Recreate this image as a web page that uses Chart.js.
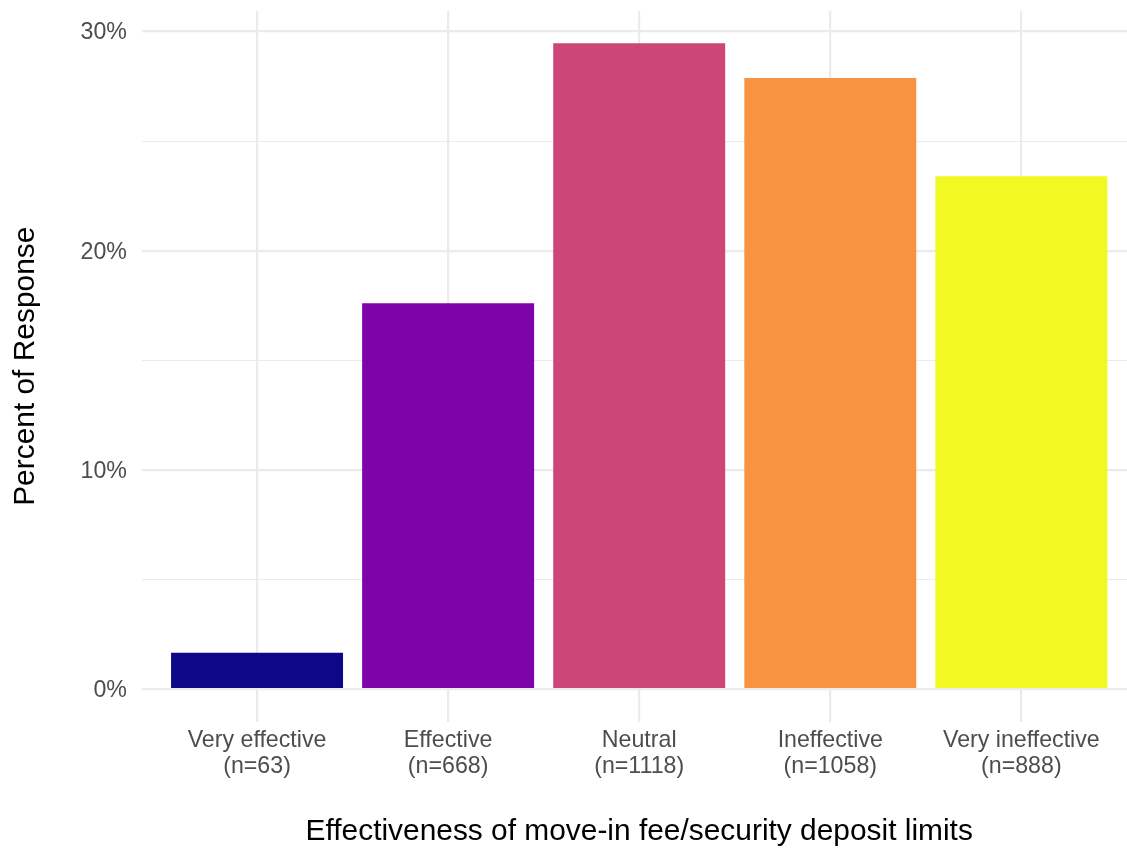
<!DOCTYPE html>
<html>
<head>
<meta charset="utf-8">
<script src="https://cdn.jsdelivr.net/npm/chart.js@4.4.1/dist/chart.umd.min.js"></script>
<style>
  html, body { margin: 0; padding: 0; background: #ffffff; overflow: hidden; }
  #wrap { width: 1127px; height: 850px; overflow: hidden; }
</style>
</head>
<body>
<div id="wrap"><canvas id="c" width="1136" height="850"></canvas></div>
<script>
const categories = ["Very effective", "Effective", "Neutral", "Ineffective", "Very ineffective"];
const counts = [63, 668, 1118, 1058, 888];
const percents = [1.66, 17.60, 29.46, 27.88, 23.40];
const barColors = ["#0D0887", "#7E03A8", "#CC4678", "#F89441", "#F0F921"];
const yTicks = [0, 5, 10, 15, 20, 25, 30];

const FONT = "'Liberation Sans', Arial, 'DejaVu Sans', sans-serif";
const maxVal = Math.max(...percents);

new Chart(document.getElementById('c'), {
  type: 'bar',
  data: {
    datasets: [{
      data: percents.map((v, i) => ({ x: i, y: v })),
      backgroundColor: barColors,
      borderWidth: 0,
      barPercentage: 0.9,
      categoryPercentage: 1.0
    }]
  },
  options: {
    responsive: false,
    animation: false,
    layout: { padding: { top: 11, left: 0, right: 0, bottom: 0 } },
    plugins: { legend: { display: false }, tooltip: { enabled: false } },
    scales: {
      x: {
        type: 'linear',
        offset: false,
        min: -0.6,
        max: categories.length - 1 + 0.6,
        afterBuildTicks: (scale) => { scale.ticks = categories.map((_, i) => ({ value: i })); },
        afterFit: (scale) => { scale.height = 128.5; scale.paddingLeft = 0; scale.paddingRight = 0; },
        border: { display: false },
        grid: { offset: false, color: '#EBEBEB', lineWidth: 2.2, drawTicks: false },
        ticks: {
          autoSkip: false,
          maxRotation: 0,
          padding: 6,
          color: '#4D4D4D',
          font: { family: FONT, size: 23.2, lineHeight: '26px' },
          callback: (v, i) => [categories[i], '(n=' + counts[i] + ')']
        },
        title: {
          display: true,
          text: 'Effectiveness of move-in fee/security deposit limits',
          color: '#000000',
          font: { family: FONT, size: 29.9, lineHeight: 1.2 },
          padding: { top: 0, bottom: 0 }
        }
      },
      y: {
        min: -maxVal * 0.05,
        max: maxVal * 1.05,
        afterBuildTicks: (scale) => { scale.ticks = yTicks.map(v => ({ value: v })); },
        afterFit: (scale) => { scale.width = 142.4; scale.paddingTop = 0; scale.paddingBottom = 0; },
        border: { display: false },
        grid: {
          drawTicks: false,
          color: '#EBEBEB',
          lineWidth: (ctx) => (ctx.tick && ctx.tick.value % 10 === 0) ? 2.2 : 1.1
        },
        ticks: {
          padding: 15.5,
          labelOffset: 1.5,
          color: '#4D4D4D',
          font: { family: FONT, size: 23.2 },
          callback: (v) => (v % 10 === 0 ? v + '%' : '')
        },
        title: {
          display: true,
          text: 'Percent of Response',
          color: '#000000',
          font: { family: FONT, size: 29.9, lineHeight: 1.2 },
          padding: { top: 8.3, bottom: 0 }
        }
      }
    }
  }
});
</script>
</body>
</html>
